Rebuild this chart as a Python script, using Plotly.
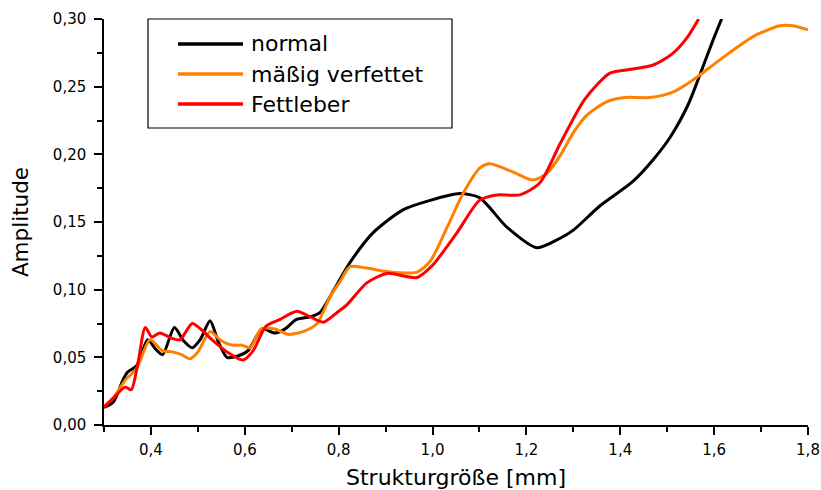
import plotly.graph_objects as go

# Amplitude vs. structure size for three liver conditions
normal_x = [0.300, 0.320, 0.340, 0.350, 0.370, 0.393, 0.410, 0.425, 0.450, 0.470, 0.488, 0.505,
            0.526, 0.543, 0.562, 0.585, 0.607, 0.637, 0.664, 0.686, 0.710, 0.740, 0.760, 0.790,
            0.824, 0.873, 0.937, 0.995, 1.058, 1.100, 1.159, 1.222, 1.272, 1.300, 1.357, 1.427,
            1.470, 1.507, 1.545, 1.570, 1.595, 1.617]
normal_y = [0.013, 0.017, 0.033, 0.039, 0.044, 0.063, 0.056, 0.052, 0.072, 0.062, 0.057, 0.063,
            0.077, 0.062, 0.050, 0.051, 0.055, 0.071, 0.068, 0.071, 0.078, 0.080, 0.083, 0.100,
            0.120, 0.142, 0.159, 0.166, 0.171, 0.168, 0.146, 0.131, 0.138, 0.144, 0.162, 0.180,
            0.196, 0.213, 0.237, 0.259, 0.282, 0.301]

maessig_x = [0.300, 0.320, 0.345, 0.370, 0.398, 0.424, 0.447, 0.465, 0.483, 0.500, 0.526, 0.547,
             0.573, 0.594, 0.611, 0.635, 0.664, 0.692, 0.724, 0.754, 0.782, 0.803, 0.824, 0.860,
             0.909, 0.967, 0.995, 1.031, 1.065, 1.101, 1.122, 1.171, 1.214, 1.244, 1.272, 1.300,
             1.329, 1.372, 1.410, 1.463, 1.512, 1.555, 1.613, 1.683, 1.740, 1.768, 1.800]
maessig_y = [0.014, 0.020, 0.033, 0.042, 0.063, 0.055, 0.054, 0.052, 0.049, 0.054, 0.069, 0.063,
             0.059, 0.059, 0.057, 0.071, 0.071, 0.067, 0.069, 0.075, 0.095, 0.106, 0.117, 0.116,
             0.113, 0.113, 0.121, 0.146, 0.171, 0.190, 0.193, 0.187, 0.181, 0.186, 0.199, 0.216,
             0.229, 0.239, 0.242, 0.242, 0.246, 0.255, 0.270, 0.287, 0.295, 0.295, 0.292]

fett_x = [0.300, 0.320, 0.345, 0.358, 0.372, 0.388, 0.402, 0.419, 0.445, 0.462, 0.488, 0.509,
          0.530, 0.562, 0.596, 0.618, 0.645, 0.675, 0.711, 0.739, 0.767, 0.796, 0.818, 0.860,
          0.903, 0.967, 1.000, 1.052, 1.100, 1.137, 1.186, 1.229, 1.272, 1.325, 1.378, 1.427,
          1.470, 1.510, 1.542, 1.567]
fett_y = [0.013, 0.020, 0.028, 0.026, 0.045, 0.072, 0.065, 0.068, 0.064, 0.063, 0.075, 0.070,
          0.063, 0.054, 0.048, 0.055, 0.073, 0.078, 0.084, 0.080, 0.076, 0.083, 0.089, 0.105,
          0.112, 0.109, 0.118, 0.142, 0.166, 0.170, 0.170, 0.179, 0.208, 0.241, 0.260, 0.263,
          0.266, 0.274, 0.286, 0.300]

series_names = ["normal", "mäßig verfettet", "Fettleber"]
series_colors = ["#000000", "#FF8000", "#FF0000"]
series_data = [(normal_x, normal_y), (maessig_x, maessig_y), (fett_x, fett_y)]

FONT = "DejaVu Sans, Arial, sans-serif"

fig = go.Figure()
for name, color, (xs, ys) in zip(series_names, series_colors, series_data):
    fig.add_trace(go.Scatter(
        x=xs, y=ys, mode="lines", name=name,
        line=dict(color=color, width=3, shape="spline", smoothing=0.7),
        showlegend=False,
    ))

# Framed legend box in the upper left of the plot area
L, T, W, H = 104, 19, 704, 406          # plot area in pixels
def px(xp):
    return (xp - L) / W
def py(yp):
    return (T + H - yp) / H

shapes = [dict(type="rect", xref="paper", yref="paper",
               x0=px(148), x1=px(452), y0=py(128), y1=py(19),
               line=dict(color="#000000", width=1.2), fillcolor="white", layer="above")]
annotations = []
for i, (name, color) in enumerate(zip(series_names, series_colors)):
    yy = py(44 + i * 30)
    shapes.append(dict(type="line", xref="paper", yref="paper",
                       x0=px(178), x1=px(243), y0=yy, y1=yy,
                       line=dict(color=color, width=3.5), layer="above"))
    annotations.append(dict(xref="paper", yref="paper", x=px(249), y=yy,
                            text=name, showarrow=False, xanchor="left", yanchor="middle",
                            font=dict(family=FONT, size=22, color="#000000")))

axis_common = dict(
    showline=True, linecolor="#000000", linewidth=1.5,
    ticks="outside", ticklen=8, tickwidth=1.5, tickcolor="#000000",
    showgrid=False, zeroline=False, mirror=False, automargin=False,
    tickfont=dict(family=FONT, size=15, color="#000000"),
)

fig.update_layout(
    width=821, height=490,
    margin=dict(l=L, r=821 - L - W, t=T, b=490 - T - H),
    paper_bgcolor="white", plot_bgcolor="white",
    separators=",.",
    shapes=shapes, annotations=annotations,
    xaxis=dict(range=[0.3, 1.8], tick0=0.4, dtick=0.2, tickformat=".1f",
               ticklabelstandoff=2,
               minor=dict(ticks="outside", ticklen=5, tickwidth=1.5, tickcolor="#000000",
                          tick0=0.3, dtick=0.1),
               title=dict(text="Strukturgröße [mm]", standoff=19,
                          font=dict(family=FONT, size=22, color="#000000")),
               **axis_common),
    yaxis=dict(range=[0, 0.3], tick0=0, dtick=0.05, tickformat=".2f",
               ticklabelstandoff=5,
               minor=dict(ticks="outside", ticklen=5, tickwidth=1.5, tickcolor="#000000",
                          tick0=0.025, dtick=0.05),
               title=dict(text="Amplitude", standoff=18,
                          font=dict(family=FONT, size=21.5, color="#000000")),
               **axis_common),
)

fig.write_html("out.html")
